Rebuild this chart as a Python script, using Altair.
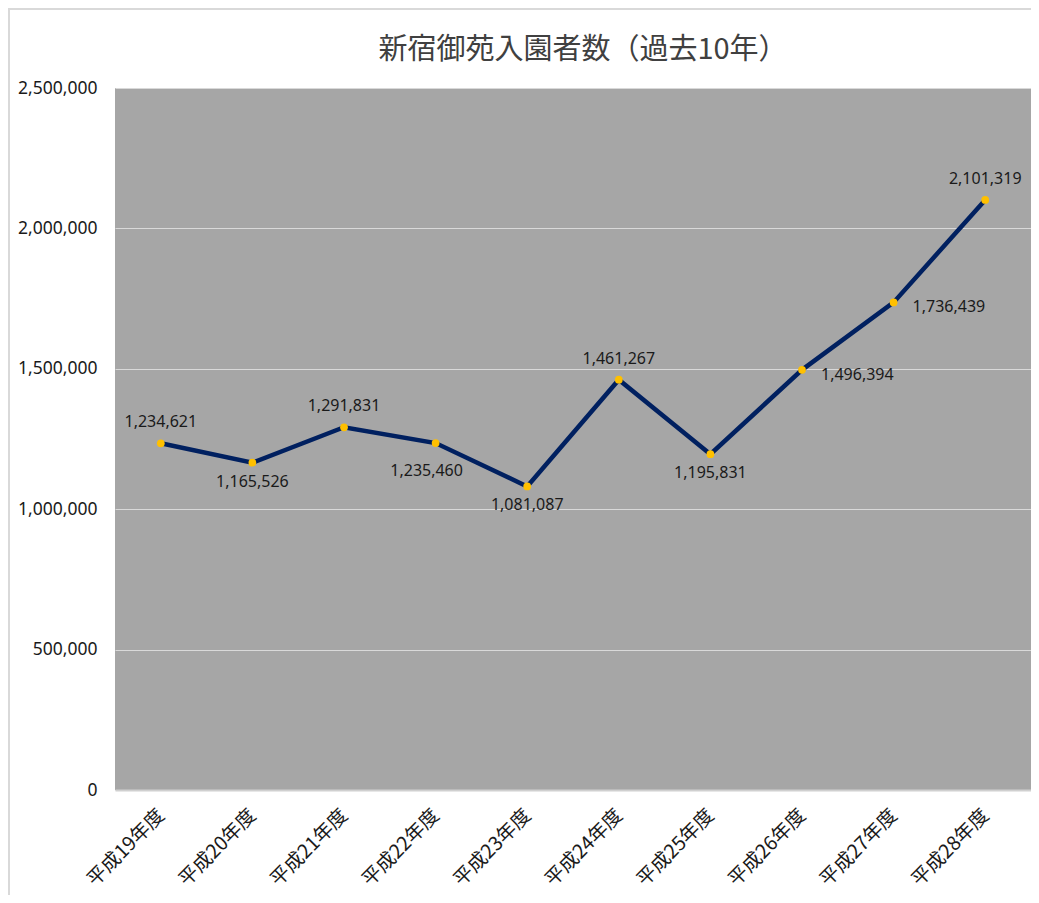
import altair as alt
import pandas as pd

years = ["平成19年度", "平成20年度", "平成21年度", "平成22年度", "平成23年度",
         "平成24年度", "平成25年度", "平成26年度", "平成27年度", "平成28年度"]
visitors = [1234621, 1165526, 1291831, 1235460, 1081087,
            1461267, 1195831, 1496394, 1736439, 2101319]
label_side = ["above", "below", "above", "belowleft", "below",
              "above", "below", "right", "right", "above"]
y_ticks = [0, 500000, 1000000, 1500000, 2000000, 2500000]
title_text = ["新宿御苑入園者数（過去10年）"]

df = pd.DataFrame({"year": years, "visitors": visitors, "side": label_side})

LATIN = "Noto Sans"
CJK = "Noto Sans CJK JP"

x_enc = alt.X("year:N", sort=years, scale=alt.Scale(type="point", padding=0.5),
              axis=alt.Axis(title=None, labelAngle=-45, labelAlign="right", labelBaseline="middle",
                            labelFont=CJK, labelFontSize=19.5, labelColor="#1a1a1a",
                            labelPadding=22, ticks=False, domainColor="#D0D0D0",
                            domainWidth=2, grid=False))
y_enc = alt.Y("visitors:Q", scale=alt.Scale(domain=[0, 2500000], nice=False),
              axis=alt.Axis(title=None, values=y_ticks, format=",d", labelFont=LATIN,
                            labelFontSize=17.5, labelColor="#1a1a1a", labelPadding=18,
                            ticks=False, domain=False, gridColor="#D9D9D9", gridWidth=1))

base = alt.Chart(df)

line = base.mark_line(color="#002060", strokeWidth=4.5).encode(x=x_enc, y=y_enc)
pts = base.mark_circle(color="#FFC000", size=60, opacity=1).encode(x="year:N", y="visitors:Q")

lab_kw = dict(font=LATIN, fontSize=16, color="#1a1a1a")
txt = alt.Text("visitors:Q", format=",d")
above = base.transform_filter(alt.datum.side == "above").mark_text(dy=-21, **lab_kw).encode(
    x="year:N", y="visitors:Q", text=txt)
below = base.transform_filter(alt.datum.side == "below").mark_text(dy=19, **lab_kw).encode(
    x="year:N", y="visitors:Q", text=txt)
belowleft = base.transform_filter(alt.datum.side == "belowleft").mark_text(dx=-9, dy=28, **lab_kw).encode(
    x="year:N", y="visitors:Q", text=txt)
right = base.transform_filter(alt.datum.side == "right").mark_text(dx=19, dy=5, align="left", **lab_kw).encode(
    x="year:N", y="visitors:Q", text=txt)

title = alt.Chart(pd.DataFrame({"t": title_text})).mark_text(
    font=CJK, fontSize=29, color="#404040", align="center", baseline="middle").encode(
    x=alt.value(468), y=alt.value(-38), text="t:N")

border_left = alt.Chart(df).mark_rule(color="#D9D9D9", strokeWidth=1.5).encode(
    x=alt.value(-106), y=alt.value(-80), y2=alt.value(815))
border_top = alt.Chart(df).mark_rule(color="#D9D9D9", strokeWidth=1.5).encode(
    x=alt.value(-107), x2=alt.value(916), y=alt.value(-79))

chart = alt.layer(border_left, border_top, line, pts, above, below, belowleft, right, title).properties(
    width=916, height=702,
    autosize=alt.AutoSizeParams(type="none"),
    padding={"left": 107, "top": 80, "right": 0, "bottom": 105},
).configure(background="white").configure_view(fill="#A6A6A6", stroke=None)

chart.save("out.html", embed_options={"renderer": "svg", "actions": False})
